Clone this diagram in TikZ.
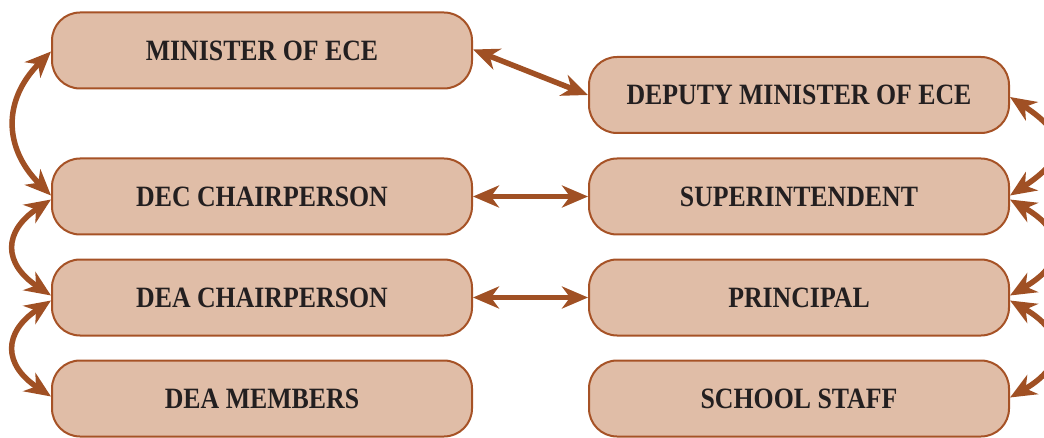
\documentclass[tikz,border=0pt]{standalone}
\usepackage{fontspec}
\setmainfont{Liberation Serif}[FakeStretch=0.875]
\usetikzlibrary{arrows.meta}
\definecolor{boxfill}{RGB}{224,189,167}
\definecolor{boxline}{RGB}{166,82,38}
\definecolor{arrowc}{RGB}{160,80,36}
\definecolor{txt}{RGB}{35,31,32}
\tikzset{
  rolebox/.style={draw=boxline, line width=2pt, fill=boxfill, rounded corners=28pt,
    minimum width=420pt, minimum height=76pt, inner sep=0pt,
    font=\fontsize{29.5}{32}\selectfont\bfseries, text=txt},
  link/.style={draw=arrowc, line width=5.5pt,
    {Stealth[length=26pt,width=22pt,inset=8pt]}-{Stealth[length=26pt,width=22pt,inset=8pt]}}
}
\begin{document}
\begin{tikzpicture}[x=1pt,y=1pt]
\useasboundingbox (0,0) rectangle (1044,437);
\clip (0,0) rectangle (1044,437);
\node[rolebox] (min) at (262,386.5) {MINISTER OF ECE};
\node[rolebox] (dep) at (799,342) {DEPUTY MINISTER OF ECE};
\node[rolebox] (dec) at (262,240.5) {DEC CHAIRPERSON};
\node[rolebox] (sup) at (799,240.5) {SUPERINTENDENT};
\node[rolebox] (deac) at (262,139.5) {DEA CHAIRPERSON};
\node[rolebox] (pri) at (799,139.5) {PRINCIPAL};
\node[rolebox] (deam) at (262,38.5) {DEA MEMBERS};
\node[rolebox] (staff) at (799,38.5) {SCHOOL STAFF};
% horizontal links
\draw[link] ([yshift=1pt]min.east) -- (dep.west);
\draw[link] (dec.east) -- (sup.west);
\draw[link] (deac.east) -- (pri.west);
% left arcs
\draw[link] ([yshift=-1pt]min.west) .. controls +(-48,-48) and +(-48,48) .. ([yshift=1pt]dec.west);
\draw[link] ([yshift=-3pt]dec.west) .. controls +(-48,-32) and +(-48,32) .. ([yshift=2pt]deac.west);
\draw[link] ([yshift=-3pt]deac.west) .. controls +(-48,-32) and +(-48,32) .. ([yshift=2pt]deam.west);
% right arcs
\draw[link] ([yshift=-2pt]dep.east) .. controls +(58,-38) and +(58,38) .. ([yshift=1pt]sup.east);
\draw[link] ([yshift=-3pt]sup.east) .. controls +(56,-32) and +(56,32) .. ([yshift=2pt]pri.east);
\draw[link] ([yshift=-3pt]pri.east) .. controls +(56,-32) and +(56,32) .. ([yshift=1pt]staff.east);
\end{tikzpicture}
\end{document}
